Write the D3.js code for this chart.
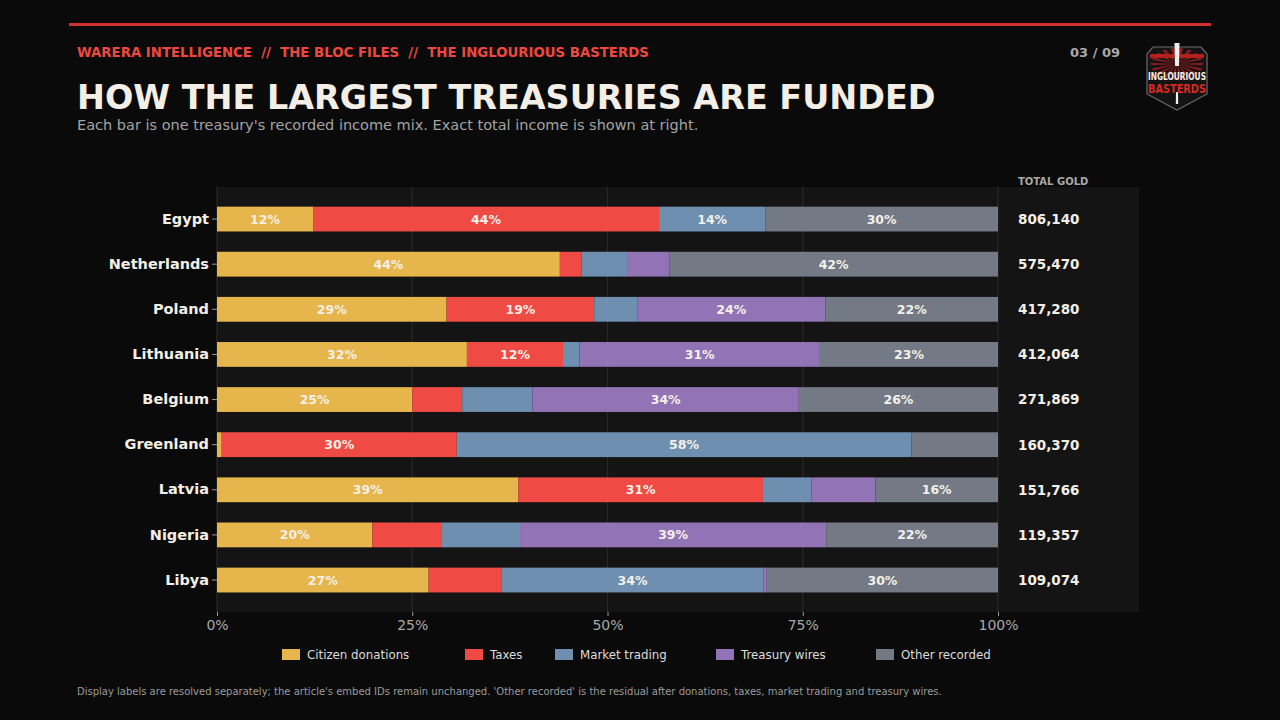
<!DOCTYPE html>
<html>
<head>
<meta charset="utf-8">
<script src="https://cdn.jsdelivr.net/npm/d3@7"></script>
<style>
	html, body { margin: 0; padding: 0; background: #0a0a0a; }
	svg { display: block; font-family: "DejaVu Sans", sans-serif; }
</style>
</head>
<body>
<svg id="chart" width="1280" height="720"></svg>
<script>
// treasuries, top to bottom
var countries = ["Egypt", "Netherlands", "Poland", "Lithuania", "Belgium", "Greenland", "Latvia", "Nigeria", "Libya"];
var totalGold = [806140, 575470, 417280, 412064, 271869, 160370, 151766, 119357, 109074];

// income mix, percent of each treasury's total
var donations = [12.3, 43.9, 29.4, 32.0, 25.0, 0.6, 38.6, 19.9, 27.1];
var taxes     = [44.3, 2.8, 18.9, 12.3, 6.4, 30.1, 31.3, 8.8, 9.3];
var market    = [13.6, 5.8, 5.5, 2.1, 9.0, 58.2, 6.2, 10.1, 33.6];
var wires     = [0.0, 5.4, 24.1, 30.8, 34.1, 0.0, 8.2, 39.2, 0.4];
var other     = [29.8, 42.1, 22.1, 22.8, 25.5, 11.1, 15.7, 22.0, 29.6];

var seriesNames = ["Citizen donations", "Taxes", "Market trading", "Treasury wires", "Other recorded"];
var seriesColors = ["#e6b54b", "#f04a45", "#6e8fb0", "#9273b5", "#737a85"];
var xTicks = [0, 25, 50, 75, 100];

var svg = d3.select("#chart");
var W = 1280, H = 720;

svg.append("rect").attr("width", W).attr("height", H).attr("fill", "#0a0a0a");

// top rule
svg.append("rect")
	.attr("x", 69).attr("y", 23).attr("width", 1142).attr("height", 3)
	.attr("fill", "#d2312d");

// header texts
svg.append("text")
	.attr("x", 77).attr("y", 57)
	.attr("fill", "#ee4840").attr("font-size", 13.3).attr("font-weight", "bold")
	.attr("xml:space", "preserve")
	.text("WARERA INTELLIGENCE  //  THE BLOC FILES  //  THE INGLOURIOUS BASTERDS");

svg.append("text")
	.attr("x", 1120).attr("y", 57).attr("text-anchor", "end")
	.attr("fill", "#a9a9a9").attr("font-size", 13).attr("font-weight", "bold")
	.text("03 / 09");

svg.append("text")
	.attr("x", 77).attr("y", 109)
	.attr("fill", "#f3efe6").attr("font-size", 33.4).attr("font-weight", "bold")
	.text("HOW THE LARGEST TREASURIES ARE FUNDED");

svg.append("text")
	.attr("x", 77).attr("y", 130)
	.attr("fill", "#a3a3a3").attr("font-size", 14.5)
	.text("Each bar is one treasury's recorded income mix. Exact total income is shown at right.");

// badge
drawBadge(svg.append("g").attr("transform", "translate(1177,76)"));

// scales
var x = d3.scaleLinear().domain([0, 100]).range([217, 998]);
var y = d3.scaleBand().domain(countries).range([196.5, 602.6]).paddingInner(0.45).paddingOuter(0.225);

// plot background incl. the totals column
svg.append("rect")
	.attr("x", 217).attr("y", 187).attr("width", 922).attr("height", 425)
	.attr("fill", "#141414");

// grid
svg.append("g").selectAll("line").data(xTicks).enter().append("line")
	.attr("x1", function (d) { return x(d); }).attr("x2", function (d) { return x(d); })
	.attr("y1", 187).attr("y2", 612)
	.attr("stroke", "#2b2727").attr("stroke-width", 1.2);

// stacked segments
var rows = countries.map(function (c, i) {
	var vals = [donations[i], taxes[i], market[i], wires[i], other[i]];
	var start = 0;
	return vals.map(function (v, k) {
		var seg = { country: c, k: k, v: v, x0: start, x1: start + v };
		start += v;
		return seg;
	});
});
var segs = _flatten(rows);

var bars = svg.append("g");
bars.selectAll("rect").data(segs.filter(function (d) { return d.v > 0; })).enter().append("rect")
	.attr("x", function (d) { return x(d.x0); })
	.attr("y", function (d) { return y(d.country); })
	.attr("width", function (d) { return x(d.x1) - x(d.x0); })
	.attr("height", y.bandwidth())
	.attr("fill", function (d) { return seriesColors[d.k]; });

bars.selectAll("text").data(segs.filter(function (d) { return d.v >= 12; })).enter().append("text")
	.attr("x", function (d) { return x((d.x0 + d.x1) / 2); })
	.attr("y", function (d) { return y(d.country) + y.bandwidth() / 2; })
	.attr("dy", "0.36em")
	.attr("text-anchor", "middle")
	.attr("fill", "#f4f0e8").attr("font-size", 12.5).attr("font-weight", "bold")
	.text(function (d) { return Math.round(d.v) + "%"; });

// x axis
var xAxis = svg.append("g").attr("transform", "translate(0,612)")
	.call(d3.axisBottom(x).tickValues(xTicks).tickSize(4).tickPadding(4).tickFormat(function (d) { return d + "%"; }));
xAxis.select(".domain").remove();
xAxis.selectAll("line").attr("stroke", "#9a9a9a");
xAxis.selectAll("text").attr("fill", "#a8a8a8").attr("font-size", 14).attr("font-family", "DejaVu Sans, sans-serif");

// y axis
var yAxis = svg.append("g").attr("transform", "translate(217,0)")
	.call(d3.axisLeft(y).tickSize(5).tickPadding(3));
yAxis.select(".domain").remove();
yAxis.selectAll("line").attr("stroke", "#9a9a9a");
yAxis.selectAll("text").attr("fill", "#f3efe6").attr("font-size", 14.5).attr("font-weight", "bold")
	.attr("font-family", "DejaVu Sans, sans-serif");

// totals column
svg.append("text")
	.attr("x", 1018).attr("y", 185)
	.attr("fill", "#a9a9a9").attr("font-size", 10).attr("font-weight", "bold")
	.text("TOTAL GOLD");

svg.append("g").selectAll("text").data(countries).enter().append("text")
	.attr("x", 1018)
	.attr("y", function (d) { return y(d) + y.bandwidth() / 2; })
	.attr("dy", "0.36em")
	.attr("fill", "#f3efe6").attr("font-size", 13.5).attr("font-weight", "bold")
	.text(function (d, i) { return d3.format(",")(totalGold[i]); });

// legend
var legendX = [282, 465, 555, 716, 876];
var legend = svg.append("g").selectAll("g").data(seriesNames).enter().append("g")
	.attr("transform", function (d, i) { return "translate(" + legendX[i] + ",649)"; });
legend.append("rect").attr("width", 18).attr("height", 11)
	.attr("fill", function (d, i) { return seriesColors[i]; });
legend.append("text").attr("x", 25).attr("y", 5.5).attr("dy", "0.36em")
	.attr("fill", "#dddddd").attr("font-size", 11.8)
	.text(function (d) { return d; });

// footnote
svg.append("text")
	.attr("x", 77).attr("y", 695)
	.attr("fill", "#9a9a9a").attr("font-size", 10)
	.text("Display labels are resolved separately; the article's embed IDs remain unchanged. 'Other recorded' is the residual after donations, taxes, market trading and treasury wires.");

function _flatten(arr) {
	return arr.reduce(function (a, b) { return a.concat(b); }, []);
}

function drawBadge(g) {
	// shield outline
	g.append("path")
		.attr("d", "M-24,-29 L24,-29 L30,-22 L30,18 L0,34 L-30,18 L-30,-22 Z")
		.attr("fill", "#141414").attr("stroke", "#6a6a6a").attr("stroke-width", 1.2);
	// red burst
	var rays = d3.range(0, 360, 20);
	g.append("g").selectAll("path").data(rays).enter().append("path")
		.attr("d", function (a) {
			var r = a * Math.PI / 180;
			return "M0,-12 L" + (Math.cos(r - 0.08) * 26) + "," + (-12 + Math.sin(r - 0.08) * 16) +
				" L" + (Math.cos(r + 0.08) * 26) + "," + (-12 + Math.sin(r + 0.08) * 16) + " Z";
		})
		.attr("fill", "#a51d1d").attr("opacity", 0.8);
	// red bands
	g.append("rect").attr("x", -27).attr("y", -22).attr("width", 54).attr("height", 4).attr("fill", "#b3211f");
	// bat
	g.append("path").attr("d", "M-2.5,-33 L2.5,-33 L2,-10 L-2,-10 Z").attr("fill", "#eeeeee");
	g.append("path").attr("d", "M-1,16 L1,16 L1.2,28 L-1.2,28 Z").attr("fill", "#eeeeee");
	g.append("text").attr("x", 0).attr("y", 4).attr("text-anchor", "middle")
		.attr("fill", "#f3efe6").attr("font-size", 10.5).attr("font-weight", "bold")
		.attr("font-family", "DejaVu Sans Condensed, DejaVu Sans, sans-serif")
		.attr("textLength", 58).attr("lengthAdjust", "spacingAndGlyphs")
		.text("INGLOURIOUS");
	g.append("text").attr("x", 0).attr("y", 17).attr("text-anchor", "middle")
		.attr("fill", "#d62a25").attr("font-size", 13).attr("font-weight", "bold")
		.attr("font-family", "DejaVu Sans Condensed, DejaVu Sans, sans-serif")
		.attr("textLength", 58).attr("lengthAdjust", "spacingAndGlyphs")
		.text("BASTERDS");
}
</script>
</body>
</html>
